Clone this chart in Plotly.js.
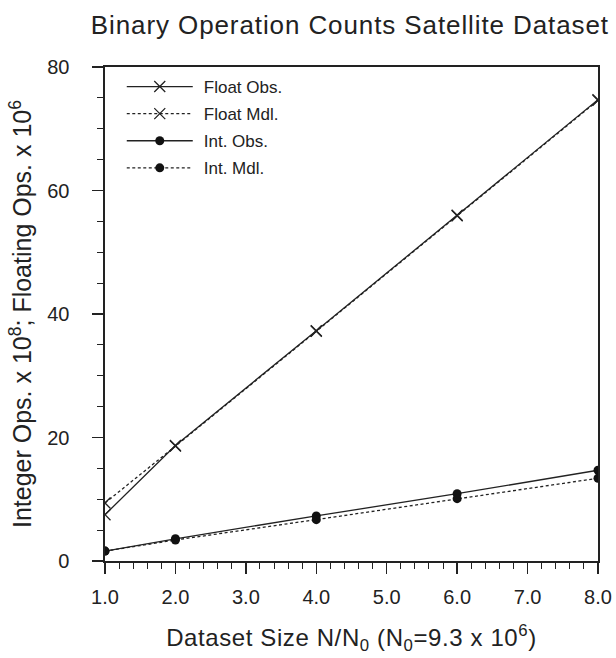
<!DOCTYPE html>
<html><head><meta charset="utf-8">
<script src="https://cdn.plot.ly/plotly-3.0.1.min.js"></script>
<style>
body{margin:0;background:#fff}#c{width:616px;height:658px}
.gtitle{letter-spacing:0.9px}
.xtitle{letter-spacing:0.6px}
</style>
</head><body><div id="c"></div>
<script>
const xs = [1, 2, 4, 6, 8];
const floatObs = [7.5, 18.7, 37.3, 56.0, 74.7];
const floatMdl = [9.4, 18.6, 37.2, 55.9, 74.6];
const intObs = [1.6, 3.6, 7.3, 10.9, 14.7];
const intMdl = [1.6, 3.4, 6.7, 10.1, 13.4];
const xTicks = [1, 2, 3, 4, 5, 6, 7, 8];
const yTicks = [0, 20, 40, 60, 80];
const seriesNames = ['Float Obs.', 'Float Mdl.', 'Int. Obs.', 'Int. Mdl.'];

const font = 'Liberation Sans, Arial, Helvetica, sans-serif';
const ink = '#222';
const xMarker = {symbol: 'x-thin-open', size: 11, color: ink, line: {width: 1.3, color: ink}};
const dotMarker = {symbol: 'circle', size: 9, color: '#111'};
const traces = [
  {x: xs, y: floatObs, name: seriesNames[0], legendgroup: 'a', mode: 'lines+markers',
   line: {color: ink, width: 1.3}, marker: xMarker},
  {x: xs, y: floatMdl, name: seriesNames[1], legendgroup: 'b', mode: 'lines+markers',
   line: {color: ink, width: 1.3, dash: '3px,2.5px'}, marker: xMarker},
  {x: xs, y: intObs, name: seriesNames[2], legendgroup: 'c', mode: 'lines+markers',
   line: {color: ink, width: 1.3}, marker: dotMarker},
  {x: xs, y: intMdl, name: seriesNames[3], legendgroup: 'd', mode: 'lines+markers',
   line: {color: ink, width: 1.3, dash: '3px,2.5px'}, marker: dotMarker}
];

const layout = {
  width: 616, height: 658,
  paper_bgcolor: '#fff', plot_bgcolor: '#fff',
  margin: {l: 105, r: 18, t: 67, b: 97},
  font: {family: font, color: ink},
  title: {text: 'Binary Operation Counts Satellite Dataset', x: 0.568, xanchor: 'center', y: 0.962, yanchor: 'middle',
          font: {size: 26, family: font, color: ink}},
  showlegend: true,
  legend: {x: 0.034, y: 0.996, xanchor: 'left', yanchor: 'top', bgcolor: 'rgba(0,0,0,0)',
           font: {size: 17, family: font, color: ink}, tracegroupgap: 2, itemwidth: 72},
  xaxis: {
    range: [1, 8], tickvals: xTicks, tickformat: '.1f',
    showgrid: false, zeroline: false, showline: true, linecolor: ink, linewidth: 1.6, mirror: true,
    ticks: 'outside', ticklen: 11, tickwidth: 1.3, tickcolor: ink, ticklabelstandoff: 6,
    tickfont: {size: 20, family: font, color: ink},
    minor: {dtick: 0.2, ticks: 'outside', ticklen: 6, tickwidth: 1, tickcolor: ink, showgrid: false},
    title: {text: 'Dataset Size N/N<sub>0</sub> (N<sub>0</sub>=9.3 x 10<sup>6</sup>)', standoff: 22,
            font: {size: 24, family: font, color: ink}}
  },
  yaxis: {
    range: [0, 80], tickvals: yTicks,
    showgrid: false, zeroline: false, showline: true, linecolor: ink, linewidth: 1.6, mirror: true,
    ticks: 'outside', ticklen: 11, tickwidth: 1.3, tickcolor: ink, ticklabelstandoff: 19,
    tickfont: {size: 20, family: font, color: ink},
    minor: {dtick: 5, ticks: 'outside', ticklen: 6, tickwidth: 1, tickcolor: ink, showgrid: false},
    title: {text: 'Integer Ops. x 10<sup>8</sup>; Floating Ops. x 10<sup>6</sup>', standoff: 8,
            font: {size: 25, family: font, color: ink}}
  }
};
Plotly.newPlot('c', traces, layout, {displayModeBar: false, staticPlot: true}).then(function (gd) {
  // lengthen legend sample lines to match the reference legend style
  gd.querySelectorAll('.legend .traces').forEach(function (tr) {
    tr.querySelectorAll('.legendlines path').forEach(function (p) { p.setAttribute('d', 'M5,0h66'); });
    tr.querySelectorAll('.legendpoints path.scatterpts').forEach(function (p) {
      p.setAttribute('transform', 'translate(38,0)');
    });
  });
});
</script></body></html>
